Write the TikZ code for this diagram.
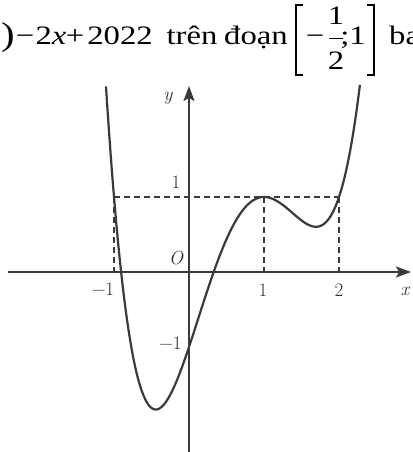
\documentclass[tikz,border=0pt]{standalone}
\usepackage{fontspec}
\usepackage{graphicx}
\usetikzlibrary{arrows.meta}
\newfontfamily\tnr{Liberation Serif}
\newfontfamily\lmr{Latin Modern Roman}
\definecolor{ink}{HTML}{3A3A3A}
\definecolor{labink}{HTML}{2E2E2E}
\newcommand\sx[1]{\scalebox{1.23}[1]{#1}}
\newcommand\mminus{\char"2212\relax}
\begin{document}
\begin{tikzpicture}[x=1pt,y=-1pt,
  toptext/.style={anchor=base,inner sep=0pt,font=\tnr\fontsize{26.6}{30}\selectfont},
  lab/.style={anchor=base,inner sep=0pt,text=labink,font=\lmr\fontsize{19}{22}\selectfont},
  axis/.style={draw=ink,line width=1.8pt,-{Stealth[length=15pt,width=11pt,inset=3pt]}},
  guide/.style={draw=ink,line width=2pt,dash pattern=on 6pt off 4pt},
  curve/.style={draw=ink,line width=2.2pt},
  brk/.style={draw=black,line width=1.3pt}]
\useasboundingbox (0,0) rectangle (412,452);
% ---- top text line ----
\node[toptext,font=\tnr\fontsize{33}{36}\selectfont] (p) at (8,46) {\sx{)}};
\node[toptext] (m1) at (25,45) {\sx{\mminus}};
\node[toptext] (t2x) at (51,45) {\sx{2\textit{x}}};
\node[toptext] (pl) at (75,45) {\sx{+}};
\node[toptext] (n2022) at (120,45) {\sx{2022}};
\node[toptext] (tren) at (192,45) {\sx{trên}};
\node[toptext] (doan) at (256,45) {\sx{đoạn}};
\coordinate (lb1) at (303,5); \coordinate (lb2) at (296,5);
\coordinate (lb3) at (296,75); \coordinate (lb4) at (303,75);
\draw[brk] (lb1) -- (lb2) -- (lb3) -- (lb4);
\node[toptext] (m2) at (315,45) {\sx{\mminus}};
\node[toptext] (num) at (336,25) {\sx{1}};
\coordinate (fb1) at (329,38.5); \coordinate (fb2) at (343,38.5);
\draw[black,line width=1.2pt] (fb1) -- (fb2);
\node[toptext] (den) at (336,70) {\sx{2}};
\node[toptext] (semi) at (353,45) {\sx{;1}};
\coordinate (rb1) at (367,5); \coordinate (rb2) at (374,5);
\coordinate (rb3) at (374,75); \coordinate (rb4) at (367,75);
\draw[brk] (rb1) -- (rb2) -- (rb3) -- (rb4);
\node[toptext,anchor=base west] (ba) at (389,45) {\sx{ba}};
% ---- graph ----
\begin{scope}[shift={(189,272)},x=75pt,y=75pt]
\coordinate (xl) at (-2.41,0); \coordinate (xr) at (2.96,0);
\coordinate (yb) at (0,-2.41); \coordinate (yt) at (0,2.48);
\coordinate (A) at (-1,1); \coordinate (B) at (1,1); \coordinate (C) at (2,1);
\coordinate (A0) at (-1,0); \coordinate (B0) at (1,0); \coordinate (C0) at (2,0);
\draw[guide] (A) -- (C) (A) -- (A0) (B) -- (B0) (C) -- (C0);
\draw[axis] (xl) -- (xr);
\draw[axis] (yb) -- (yt);
\draw[curve] plot[domain=-1.107:2.28,samples=200,smooth] (\x,{1+(\x+1)*(\x-1)^2*(\x-2)});
\end{scope}
% ---- labels ----
\node[lab] (ly) at (168,100) {\itshape y};
\node[lab] (lx) at (405,295) {\itshape x};
\node[lab] (lO) at (176,264) {\itshape O};
\node[lab] (ly1) at (176,188) {1};
\node[lab] (lym1) at (170.5,349) {\mminus 1};
\node[lab] (lxm1) at (103,295) {\mminus 1};
\node[lab] (lx1) at (263,296) {1};
\node[lab] (lx2) at (339,296) {2};
\end{tikzpicture}
\end{document}
